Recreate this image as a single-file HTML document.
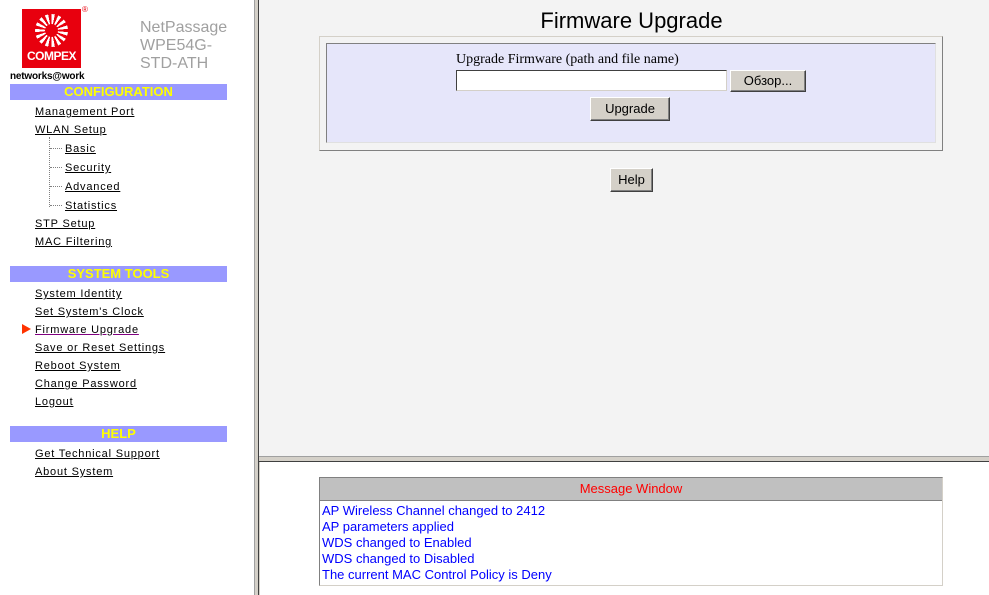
<!DOCTYPE html>
<html><head><meta charset="utf-8"><style>
body{margin:0;width:989px;height:595px;position:relative;overflow:hidden;background:#fff;font-family:"Liberation Sans",sans-serif}
.a{position:absolute}
.lnk{position:absolute;left:35px;font-size:11px;letter-spacing:0.8px;color:#000;text-decoration:underline;white-space:nowrap}
.sub{left:65px}
.hdr{position:absolute;left:10px;width:217px;height:16px;background:#9999ff;color:#ffff00;font-weight:bold;font-size:13px;text-align:center;line-height:16px}
.btn{position:absolute;background:#d4d0c8;border:1px solid;border-color:#fff #404040 #404040 #fff;box-shadow:inset -1px -1px 0 #808080;font-size:13px;text-align:center;box-sizing:border-box;color:#000}
.msg{font-size:13px;color:#0000ff;height:16px;line-height:16px}
</style></head><body>
<div class="a" style="left:22px;top:9px;width:59px;height:59px;background:#e8000e"></div>
<div class="a" style="left:35px;top:14px;width:33px;height:33px;border-radius:50%;background:repeating-conic-gradient(#fff 0 12deg,#e8000e 12deg 24deg)"></div>
<div class="a" style="left:45px;top:24px;width:13px;height:13px;border-radius:50%;background:#e8000e"></div>
<div class="a" style="left:22px;top:49px;width:59px;text-align:center;color:#fff;font-weight:bold;font-size:12px;letter-spacing:-0.5px">COMPEX</div>
<div class="a" style="left:82px;top:5px;font-size:8px;color:#e8000e">®</div>
<div class="a" style="left:140px;top:19px;font-size:16px;line-height:18px;color:#a0a0a0">NetPassage<br>WPE54G-<br>STD-ATH</div>
<div class="a" style="left:10px;top:71px;font-size:10px;font-weight:bold;letter-spacing:-0.2px">networks@work</div>
<div class="hdr" style="top:84px">CONFIGURATION</div>
<div class="lnk" style="top:106px">Management Port</div>
<div class="lnk" style="top:124px">WLAN Setup</div>
<div class="a" style="left:49px;top:137px;width:0;height:70px;border-left:1px dotted #808080"></div>
<div class="a" style="left:50px;top:148px;width:12px;border-top:1px dotted #808080"></div>
<div class="a" style="left:50px;top:167px;width:12px;border-top:1px dotted #808080"></div>
<div class="a" style="left:50px;top:186px;width:12px;border-top:1px dotted #808080"></div>
<div class="a" style="left:50px;top:205px;width:12px;border-top:1px dotted #808080"></div>
<div class="lnk sub" style="top:143px">Basic</div>
<div class="lnk sub" style="top:162px">Security</div>
<div class="lnk sub" style="top:181px">Advanced</div>
<div class="lnk sub" style="top:200px">Statistics</div>
<div class="lnk" style="top:218px">STP Setup</div>
<div class="lnk" style="top:236px">MAC Filtering</div>
<div class="hdr" style="top:266px">SYSTEM TOOLS</div>
<div class="lnk" style="top:288px">System Identity</div>
<div class="lnk" style="top:306px">Set System's Clock</div>
<div class="a" style="left:22px;top:324px;width:0;height:0;border-left:9px solid #ff3300;border-top:5px solid transparent;border-bottom:5px solid transparent"></div>
<div class="lnk" style="top:324px;text-decoration-color:#800080">Firmware Upgrade</div>
<div class="lnk" style="top:342px">Save or Reset Settings</div>
<div class="lnk" style="top:360px">Reboot System</div>
<div class="lnk" style="top:378px">Change Password</div>
<div class="lnk" style="top:396px">Logout</div>
<div class="hdr" style="top:426px">HELP</div>
<div class="lnk" style="top:448px">Get Technical Support</div>
<div class="lnk" style="top:466px">About System</div>
<div class="a" style="left:254px;top:0;width:5px;height:595px;background:#d4d0c8;border-left:1px solid #a0a0a0"></div>
<div class="a" style="left:258px;top:0;width:1px;height:595px;background:#404040"></div>
<div class="a" style="left:259px;top:0;width:730px;height:456px;background:#f3f3f3"></div>
<div class="a" style="left:259px;top:456px;width:730px;height:4px;background:#d4d0c8;border-top:1px solid #a0a0a0"></div>
<div class="a" style="left:259px;top:461px;width:730px;height:1px;background:#404040"></div>
<div class="a" style="left:259px;top:8px;width:745px;text-align:center;font-size:22px">Firmware Upgrade</div>
<div class="a" style="left:319px;top:36px;width:622px;height:113px;border:1px solid;border-color:#d4d0c8 #808080 #808080 #d4d0c8"></div>
<div class="a" style="left:326px;top:43px;width:608px;height:98px;background:#e6e6fa;border:1px solid;border-color:#808080 #e0e0e0 #e0e0e0 #808080"></div>
<div class="a" style="left:456px;top:52px;font-family:'Liberation Serif',serif;font-size:14px">Upgrade Firmware (path and file name)</div>
<div class="a" style="left:456px;top:70px;width:271px;height:21px;background:#fff;border:1px solid;border-color:#404040 #d4d0c8 #d4d0c8 #404040;box-sizing:border-box"></div>
<div class="btn" style="left:730px;top:70px;width:76px;height:22px;line-height:20px">Обзор...</div>
<div class="btn" style="left:590px;top:97px;width:80px;height:24px;line-height:22px">Upgrade</div>
<div class="btn" style="left:610px;top:168px;width:43px;height:24px;line-height:22px">Help</div>
<div class="a" style="left:319px;top:477px;width:622px;height:107px;border:1px solid;border-color:#808080 #d4d0c8 #d4d0c8 #808080;background:#fff"></div>
<div class="a" style="left:320px;top:478px;width:622px;height:22px;background:#c0c0c0;border-bottom:1px solid #808080;color:#ff0000;font-size:13px;text-align:center;line-height:22px">Message Window</div>
<div class="a" style="left:322px;top:503px">
<div class="msg">AP Wireless Channel changed to 2412</div>
<div class="msg">AP parameters applied</div>
<div class="msg">WDS changed to Enabled</div>
<div class="msg">WDS changed to Disabled</div>
<div class="msg">The current MAC Control Policy is Deny</div>
</div>
</body></html>
